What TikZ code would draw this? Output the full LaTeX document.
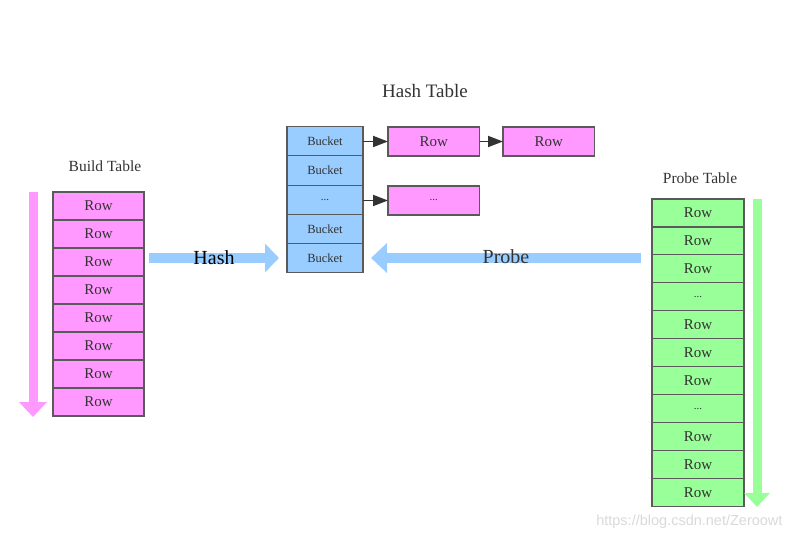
\documentclass[tikz,border=0pt]{standalone}
\usepackage{fontspec}
\setmainfont{Liberation Serif}
\newfontfamily\wmfont{Liberation Sans}
\usetikzlibrary{arrows.meta}
\definecolor{pinkc}{HTML}{FF99FF}
\definecolor{bluec}{HTML}{99CCFF}
\definecolor{greenc}{HTML}{99FF99}
\definecolor{edgec}{HTML}{5A5A5A}
\definecolor{txtc}{HTML}{333333}
\newcommand\myellip{\fontsize{11}{11}\selectfont...}
\tikzset{
  cell/.style={draw=edgec, line width=1.1pt, minimum width=91pt, minimum height=28pt, inner sep=0pt, outer sep=0pt, text=txtc, font=\fontsize{15}{15}\selectfont},
  bucketcell/.style={cell, fill=bluec, minimum width=76pt, minimum height=29.2pt, font=\fontsize{12.5}{12.5}\selectfont},
  rowpink/.style={cell, fill=pinkc},
  rowgreen/.style={cell, fill=greenc, minimum width=92pt, minimum height=27.97pt},
  chain/.style={cell, fill=pinkc, minimum width=91.5pt, minimum height=29pt},
  link/.style={-{Triangle[length=15pt,width=11pt]}, draw=txtc, fill=txtc, line width=1.8pt},
  bigarrow/.style={line width=10pt, -{Triangle[length=14pt,width=28pt]}},
  title/.style={text=txtc, font=\fontsize{15.5}{15.5}\selectfont},
}
\begin{document}
\begin{tikzpicture}[x=1pt,y=-1pt]
\useasboundingbox (0,0) rectangle (796,540);
% Build table
\node[title] (bt) at (105,166) {Build Table};
\foreach \i in {1,...,8} {
  \node[rowpink, anchor=north west] (b\i) at (53,{192+28*(\i-1)}) {Row};
}
\coordinate (pa1) at (33,192);
\coordinate (pa2) at (33,417);
\draw[bigarrow, draw=pinkc, -{Triangle[length=15pt,width=27pt]}, line width=9pt] (pa1) -- (pa2);
% Hash table
\node[text=txtc, font=\fontsize{19}{19}\selectfont] (ht) at (425,91) {Hash Table};
\foreach \t [count=\i] in {Bucket,Bucket,\myellip,Bucket,Bucket} {
  \node[bucketcell, anchor=north west] (h\i) at (287,{126.7+29.2*(\i-1)}) {\t};
}
\node[chain, anchor=north west] (r1) at (388,127) {Row};
\node[chain, anchor=north west] (r2) at (503,127) {Row};
\node[chain, anchor=north west] (r3) at (388,186) {\myellip};
\draw[link] (h1.east |- r1.west) -- (r1.west);
\draw[link] (r1.east) -- (r2.west);
\draw[link] (h3.east |- r3.west) -- (r3.west);
% Hash arrow
\coordinate (ha1) at (149,258);
\coordinate (ha2) at (279,258);
\draw[bigarrow, draw=bluec] (ha1) -- (ha2);
\node[text=black, font=\fontsize{20}{20}\selectfont] (hl) at (214,258) {Hash};
% Probe arrow
\coordinate (pb1) at (641,258);
\coordinate (pb2) at (371,258);
\draw[bigarrow, draw=bluec, -{Triangle[length=16pt,width=29pt]}] (pb1) -- (pb2);
\node[text=txtc, font=\fontsize{20}{20}\selectfont] (pl) at (506,257) {Probe};
% Probe table
\node[title] (ptt) at (700,178) {Probe Table};
\foreach \t [count=\i] in {Row,Row,Row,\myellip,Row,Row,Row,\myellip,Row,Row,Row} {
  \node[rowgreen, anchor=north west] (p\i) at (652,{199+27.97*(\i-1)}) {\t};
}
\coordinate (ga1) at (757,199);
\coordinate (ga2) at (757,507);
\draw[bigarrow, draw=greenc, -{Triangle[length=14pt,width=25pt]}, line width=9pt] (ga1) -- (ga2);
% watermark
\node[text=black!15, font=\wmfont\fontsize{14.5}{14.5}\selectfont, anchor=east] (wm) at (786,522) {https://blog.csdn.net/Zeroowt};
\end{tikzpicture}
\end{document}
